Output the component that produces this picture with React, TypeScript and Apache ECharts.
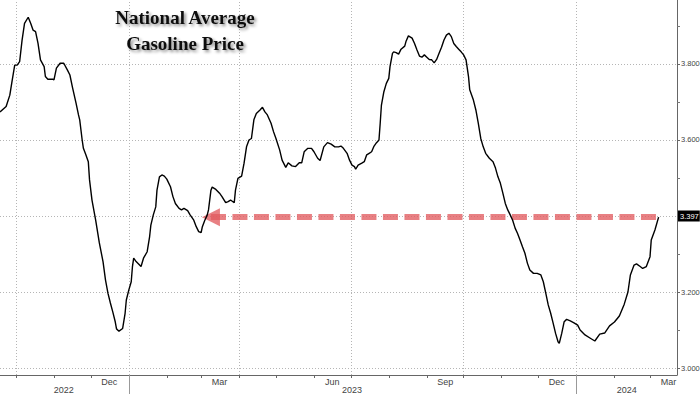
import React, { useEffect, useRef } from "react";
import * as echarts from "echarts";

const dates = [
  "2022-09-18","2022-09-23","2022-09-26","2022-09-28","2022-09-30","2022-10-02","2022-10-04","2022-10-06","2022-10-08","2022-10-11",
  "2022-10-13","2022-10-15","2022-10-17","2022-10-19","2022-10-21","2022-10-24","2022-10-25","2022-10-27","2022-10-31","2022-11-01",
  "2022-11-03","2022-11-06","2022-11-09","2022-11-12","2022-11-14","2022-11-16","2022-11-19","2022-11-21","2022-11-22","2022-11-24",
  "2022-11-25","2022-11-27","2022-11-29","2022-11-30","2022-12-02","2022-12-05","2022-12-08","2022-12-11","2022-12-13","2022-12-15",
  "2022-12-17","2022-12-19","2022-12-21","2022-12-22","2022-12-24","2022-12-27","2022-12-29","2022-12-30",
  "2023-01-01","2023-01-03","2023-01-04","2023-01-05","2023-01-07","2023-01-11","2023-01-13","2023-01-16","2023-01-18","2023-01-19",
  "2023-01-21","2023-01-23","2023-01-24","2023-01-26","2023-01-28","2023-01-30","2023-02-01","2023-02-04","2023-02-06","2023-02-08",
  "2023-02-11","2023-02-13","2023-02-15","2023-02-18","2023-02-20","2023-02-23","2023-02-25","2023-02-27","2023-03-01","2023-03-02",
  "2023-03-04","2023-03-06","2023-03-07","2023-03-09","2023-03-10","2023-03-13","2023-03-16","2023-03-18","2023-03-21","2023-03-23",
  "2023-03-25","2023-03-28","2023-03-29","2023-03-31","2023-04-03","2023-04-05","2023-04-07","2023-04-09","2023-04-11","2023-04-13",
  "2023-04-15","2023-04-18","2023-04-20","2023-04-22","2023-04-24","2023-04-27","2023-04-29","2023-05-01","2023-05-04","2023-05-06",
  "2023-05-09","2023-05-11","2023-05-14","2023-05-17","2023-05-20","2023-05-22","2023-05-24","2023-05-27","2023-05-30","2023-06-01",
  "2023-06-04","2023-06-06","2023-06-09","2023-06-12","2023-06-15","2023-06-18","2023-06-21","2023-06-23","2023-06-25","2023-06-28",
  "2023-06-30","2023-07-02","2023-07-04","2023-07-05","2023-07-07","2023-07-10","2023-07-12","2023-07-14","2023-07-16","2023-07-18",
  "2023-07-20","2023-07-22","2023-07-24","2023-07-25","2023-07-26","2023-07-28","2023-07-30","2023-08-01","2023-08-02","2023-08-04",
  "2023-08-05","2023-08-07","2023-08-09","2023-08-11","2023-08-14","2023-08-15","2023-08-17","2023-08-20","2023-08-22","2023-08-24",
  "2023-08-26","2023-08-28","2023-08-30","2023-09-01","2023-09-03","2023-09-05","2023-09-07","2023-09-09","2023-09-11","2023-09-13",
  "2023-09-15","2023-09-17","2023-09-19","2023-09-21","2023-09-23","2023-09-25","2023-09-27","2023-09-29","2023-10-01","2023-10-03",
  "2023-10-05","2023-10-06","2023-10-09","2023-10-11","2023-10-13","2023-10-15","2023-10-17","2023-10-19","2023-10-22","2023-10-25",
  "2023-10-27","2023-10-29","2023-10-31","2023-11-02","2023-11-04","2023-11-06","2023-11-08","2023-11-10","2023-11-12","2023-11-14",
  "2023-11-16","2023-11-18","2023-11-20","2023-11-22","2023-11-24","2023-11-27","2023-11-30","2023-12-03","2023-12-05","2023-12-07",
  "2023-12-09","2023-12-11","2023-12-13","2023-12-15","2023-12-17","2023-12-18","2023-12-20","2023-12-22","2023-12-24","2023-12-27",
  "2023-12-30","2024-01-02","2024-01-04","2024-01-08","2024-01-12","2024-01-16","2024-01-20","2024-01-24","2024-01-28","2024-02-01",
  "2024-02-05","2024-02-09","2024-02-12","2024-02-14","2024-02-17","2024-02-19","2024-02-22","2024-02-24","2024-02-27","2024-03-01",
  "2024-03-02","2024-03-05","2024-03-08",
];

const prices = [
  3.674,3.688,3.718,3.758,3.797,3.797,3.806,3.863,3.907,3.923,
  3.907,3.889,3.885,3.854,3.811,3.793,3.767,3.760,3.760,3.758,
  3.789,3.802,3.802,3.784,3.771,3.740,3.697,3.666,3.653,3.600,
  3.578,3.561,3.543,3.495,3.442,3.389,3.329,3.280,3.232,3.197,
  3.171,3.147,3.121,3.103,3.097,3.104,3.144,3.179,
  3.205,3.227,3.267,3.289,3.280,3.267,3.289,3.306,3.346,3.376,
  3.403,3.424,3.468,3.503,3.508,3.505,3.497,3.477,3.451,3.433,
  3.420,3.416,3.420,3.414,3.403,3.389,3.372,3.359,3.356,3.372,
  3.389,3.403,3.416,3.468,3.476,3.470,3.460,3.451,3.435,3.438,
  3.442,3.435,3.468,3.499,3.505,3.539,3.582,3.600,3.604,3.653,
  3.670,3.679,3.686,3.674,3.666,3.644,3.622,3.604,3.574,3.547,
  3.528,3.540,3.532,3.530,3.540,3.540,3.569,3.578,3.578,3.569,
  3.552,3.546,3.582,3.593,3.589,3.582,3.582,3.584,3.578,3.565,
  3.547,3.534,3.530,3.523,3.534,3.539,3.543,3.561,3.565,3.569,
  3.584,3.593,3.600,3.644,3.692,3.727,3.749,3.762,3.793,3.828,
  3.832,3.830,3.826,3.839,3.847,3.859,3.874,3.868,3.854,3.837,
  3.821,3.818,3.824,3.818,3.812,3.811,3.803,3.812,3.828,3.844,
  3.863,3.876,3.881,3.872,3.854,3.846,3.839,3.832,3.824,3.811,
  3.767,3.732,3.705,3.679,3.644,3.604,3.582,3.565,3.552,3.543,
  3.526,3.503,3.486,3.460,3.433,3.416,3.403,3.389,3.368,3.354,
  3.337,3.319,3.302,3.276,3.258,3.249,3.249,3.245,3.227,3.197,
  3.166,3.144,3.118,3.091,3.069,3.065,3.091,3.122,3.128,3.124,
  3.119,3.113,3.100,3.087,3.079,3.071,3.089,3.092,3.111,3.121,
  3.137,3.168,3.200,3.245,3.271,3.274,3.267,3.262,3.267,3.293,
  3.337,3.363,3.397,
];

const xStart = "2022-09-18";
const xEnd = "2024-03-23";
const yMin = 2.9816;
const yMax = 3.9684;

const monthTicks = [
  "2022-10-01","2022-11-01","2022-12-01","2023-01-01","2023-02-01","2023-03-01","2023-04-01","2023-05-01","2023-06-01",
  "2023-07-01","2023-08-01","2023-09-01","2023-10-01","2023-11-01","2023-12-01","2024-01-01","2024-02-01","2024-03-01",
];
const quarterLines = ["2022-10-01","2023-01-01","2023-04-01","2023-07-01","2023-10-01","2024-01-01"];
const monthLabelDates = ["2022-12-16","2023-03-16","2023-06-16","2023-09-16","2023-12-16","2024-03-16"];
const monthLabels = ["Dec","Mar","Jun","Sep","Dec","Mar"];
const yearLabelDates = ["2022-11-09","2023-07-02","2024-02-11"];
const yearLabels = ["2022","2023","2024"];
const yearSeparators = ["2023-01-01","2024-01-01"];

const yTicks = [3.0, 3.2, 3.4, 3.6, 3.8];
const yMinorTicks = [3.1, 3.3, 3.5, 3.7, 3.9];

const lastPrice = 3.397;
const arrowFrom = "2023-03-09";
const arrowTo = "2024-03-11";

const titleLines = ["National Average", "Gasoline Price"];

const axisFont = '"Liberation Sans Narrow", "Liberation Sans", Arial, sans-serif';
const titleFont = 'bold 19px "Liberation Serif", "DejaVu Serif", serif';

const ts = (d: string) => Date.parse(d + "T00:00:00Z");

function nearestLabel(value: number, ds: string[], labels: string[]) {
  let best = 0;
  let bestDiff = Infinity;
  ds.forEach((d, i) => {
    const diff = Math.abs(ts(d) - value);
    if (diff < bestDiff) {
      bestDiff = diff;
      best = i;
    }
  });
  return labels[best];
}

export default function App() {
  const ref = useRef<HTMLDivElement>(null);

  useEffect(() => {
    if (!ref.current) return;
    const chart = echarts.init(ref.current, undefined, { renderer: "svg" });
    const gridLine = { color: "#b5b5b5", width: 1, type: [1, 2] as any };
    const xMin = ts(xStart);
    const xMax = ts(xEnd);

    chart.setOption({
      animation: false,
      backgroundColor: "#ffffff",
      grid: { left: 0, right: 23, top: 0, bottom: 19, containLabel: false, outerBoundsMode: "none" },
      graphic: [
        {
          type: "text",
          x: 185,
          y: 4,
          z: 100,
          silent: true,
          style: {
            text: titleLines.join("\n"),
            font: titleFont,
            fill: "#111",
            align: "center",
            verticalAlign: "top",
            lineHeight: 26,
            textShadowColor: "rgba(0,0,0,0.45)",
            textShadowBlur: 3,
            textShadowOffsetX: 2,
            textShadowOffsetY: 2,
          },
        },
      ],
      xAxis: [
        {
          type: "value",
          position: "bottom",
          min: xMin,
          max: xMax,
          axisLine: { show: true, lineStyle: { color: "#666", width: 1 } },
          axisTick: { show: true, customValues: monthTicks.map(ts), length: 3, lineStyle: { color: "#666" } },
          axisLabel: {
            customValues: monthLabelDates.map(ts),
            formatter: (v: number) => nearestLabel(v, monthLabelDates, monthLabels),
            fontSize: 9,
            fontFamily: axisFont,
            color: "#444",
            margin: 2,
          },
          splitLine: { show: false },
        },
        {
          type: "value",
          position: "bottom",
          min: xMin,
          max: xMax,
          axisLine: { show: false },
          axisTick: { show: true, customValues: yearSeparators.map(ts), length: 19, lineStyle: { color: "#999" } },
          axisLabel: {
            customValues: yearLabelDates.map(ts),
            formatter: (v: number) => nearestLabel(v, yearLabelDates, yearLabels),
            fontSize: 9,
            fontFamily: axisFont,
            color: "#444",
            margin: 10,
          },
          splitLine: { show: false },
        },
      ],
      yAxis: [
        {
          type: "value",
          position: "right",
          min: yMin,
          max: yMax,
          axisLine: { show: true, lineStyle: { color: "#666", width: 1 } },
          axisTick: { show: true, customValues: yTicks, length: 3, lineStyle: { color: "#666" } },
          axisLabel: {
            customValues: yTicks,
            formatter: (v: number) => v.toFixed(3),
            fontSize: 7.5,
            fontFamily: axisFont,
            color: "#444",
            margin: 4,
          },
          splitLine: { show: true, lineStyle: gridLine },
        },
        {
          type: "value",
          position: "right",
          min: yMin,
          max: yMax,
          axisLine: { show: false },
          axisTick: { show: true, customValues: yMinorTicks, length: 3, lineStyle: { color: "#777" } },
          axisLabel: { show: false },
          splitLine: { show: false },
        },
      ],
      series: [
        {
          type: "line",
          xAxisIndex: 0,
          yAxisIndex: 0,
          data: dates.map((d, i) => [ts(d), prices[i]]),
          showSymbol: false,
          symbol: "none",
          lineStyle: { color: "#000", width: 1.4 },
          z: 5,
          markLine: {
            silent: true,
            animation: false,
            symbol: ["none", "none"],
            data: [
              ...quarterLines.map((q) => ({
                xAxis: ts(q),
                lineStyle: gridLine,
                label: { show: false },
              })),
              {
                yAxis: lastPrice,
                lineStyle: gridLine,
                label: {
                  show: true,
                  position: "end",
                  distance: 1,
                  formatter: lastPrice.toFixed(3),
                  backgroundColor: "#000",
                  color: "#fff",
                  fontSize: 7.5,
                  fontFamily: axisFont,
                  padding: [2, 1, 1, 2],
                },
              },
              [
                {
                  coord: [ts(arrowFrom), lastPrice],
                  symbol: "triangle",
                  symbolSize: [18, 18],
                  lineStyle: { color: "rgba(226,92,96,0.78)", width: 6, type: [15, 6.5] },
                  itemStyle: { color: "rgba(226,92,96,0.78)" },
                  label: { show: false },
                },
                { coord: [ts(arrowTo), lastPrice], symbol: "none" },
              ],
            ],
          },
        },
      ],
    });
    return () => chart.dispose();
  }, []);

  return (
    <div
      ref={ref}
      style={{ position: "fixed", left: 0, top: 0, width: 700, height: 394, background: "#fff" }}
    />
  );
}
